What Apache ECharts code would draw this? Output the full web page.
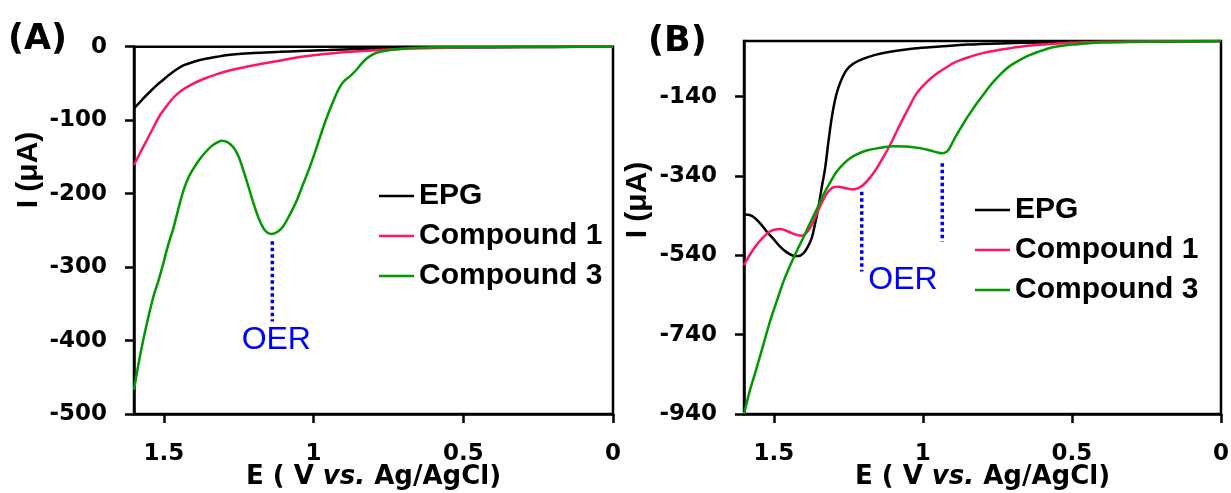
<!DOCTYPE html>
<html>
<head>
<meta charset="utf-8">
<script src="https://cdn.jsdelivr.net/npm/echarts@6/dist/echarts.min.js"></script>
<style>
  html, body { margin: 0; padding: 0; background: #fff; }
  #chart { width: 1231px; height: 493px; }
</style>
</head>
<body>
<div id="chart"></div>
<script>
// ---- Panel A: potential (V vs. Ag/AgCl) and current (µA) ----
const potA_EPG = [1.60, 1.575, 1.546, 1.52, 1.502, 1.485, 1.469, 1.45, 1.435, 1.40, 1.368, 1.32, 1.279, 1.20, 1.112, 1.045, 0.95, 0.85, 0.75, 0.6, 0.4, 0.2, 0];
const curA_EPG = [-84, -73, -61, -51, -45, -39, -34, -29, -25.5, -20.5, -17, -13.5, -11, -8.5, -7, -5.8, -4.5, -3, -2, -1.2, -0.6, -0.3, 0];

const potA_C1 = [1.60, 1.58, 1.557, 1.535, 1.513, 1.495, 1.48, 1.46, 1.435, 1.40, 1.368, 1.32, 1.279, 1.22, 1.168, 1.10, 1.045, 1.0, 0.9, 0.78, 0.7, 0.6, 0.4, 0.2, 0];
const curA_C1 = [-161, -145, -127, -110, -93, -83, -75, -66, -58, -50, -44, -37, -32, -27, -23, -18, -14, -11.5, -7.5, -4.5, -2.8, -1.6, -0.8, -0.4, 0];

const potA_C3 = [1.60, 1.585, 1.569, 1.552, 1.535, 1.518, 1.502, 1.49, 1.48, 1.469, 1.452, 1.435, 1.418, 1.40, 1.38, 1.36, 1.34, 1.32, 1.307, 1.288, 1.268, 1.25, 1.235, 1.218, 1.201, 1.185, 1.168, 1.155, 1.14, 1.12, 1.101, 1.08, 1.056, 1.035, 1.012, 0.99, 0.968, 0.95, 0.934, 0.918, 0.901, 0.878, 0.856, 0.84, 0.823, 0.8, 0.778, 0.745, 0.711, 0.65, 0.6, 0.4, 0];
const curA_C3 = [-467, -432, -399, -368, -340, -318, -295, -276, -262, -248, -221, -196, -178, -165, -153, -143, -135, -130, -128, -130, -137, -150, -168, -190, -213, -232, -247, -253, -255, -252, -244, -229, -209, -187, -163, -137, -110, -90, -74, -59, -48, -40, -31, -23, -16, -10, -7, -4.5, -3, -1.5, -0.8, -0.3, 0];

// OER marker in panel A (potential, current range)
const oerA_pot = [1.138, 1.138];
const oerA_cur = [-265, -374];

// ---- Panel B ----
const potB_EPG = [1.60, 1.585, 1.569, 1.545, 1.524, 1.50, 1.479, 1.457, 1.435, 1.418, 1.401, 1.387, 1.373, 1.362, 1.351, 1.34, 1.328, 1.317, 1.306, 1.295, 1.284, 1.27, 1.256, 1.235, 1.211, 1.16, 1.11, 1.03, 0.943, 0.85, 0.741, 0.6, 0.4, 0.2, 0];
const curB_EPG = [-437, -438, -443, -460, -480, -500, -518, -532, -541, -542, -535, -520, -497, -462, -422, -372, -321, -255, -195, -150, -119, -92, -73, -58, -48, -35, -27, -19, -14, -9, -6, -3.5, -2, -1, 0];

const potB_C1 = [1.60, 1.58, 1.558, 1.535, 1.513, 1.495, 1.479, 1.462, 1.446, 1.425, 1.407, 1.39, 1.373, 1.357, 1.34, 1.325, 1.312, 1.298, 1.284, 1.26, 1.233, 1.215, 1.20, 1.178, 1.155, 1.132, 1.11, 1.088, 1.066, 1.043, 1.021, 0.993, 0.965, 0.943, 0.92, 0.898, 0.87, 0.842, 0.8, 0.73, 0.68, 0.618, 0.507, 0.4, 0.2, 0];
const curB_C1 = [-565, -538, -514, -494, -480, -475, -474, -477, -482, -488, -491, -483, -464, -437, -409, -388, -375, -368, -367, -371, -374, -370, -363, -345, -321, -292, -262, -228, -195, -162, -132, -108, -89, -77, -66, -56, -47, -40, -30.5, -21, -15, -10, -4.5, -2, -0.7, 0];

const potB_C3 = [1.60, 1.58, 1.558, 1.535, 1.513, 1.49, 1.468, 1.446, 1.424, 1.40, 1.379, 1.356, 1.334, 1.31, 1.289, 1.267, 1.245, 1.22, 1.189, 1.15, 1.099, 1.055, 1.01, 0.975, 0.955, 0.937, 0.92, 0.909, 0.898, 0.88, 0.86, 0.84, 0.82, 0.80, 0.78, 0.76, 0.74, 0.72, 0.70, 0.68, 0.66, 0.64, 0.62, 0.60, 0.58, 0.55, 0.50, 0.45, 0.40, 0.30, 0.15, 0];
const curB_C3 = [-940, -880, -825, -765, -707, -655, -607, -567, -531, -494, -460, -424, -388, -355, -329, -310, -296, -285, -276, -270, -265, -266, -270, -276, -280, -283, -279, -268, -252, -228, -203, -180, -158, -138, -118, -100, -84, -70, -59, -50, -42, -35, -29, -24, -19, -14, -9, -6, -4, -2.5, -1, 0];

// OER markers in panel B
const oerB1_pot = [1.205, 1.205];
const oerB1_cur = [-380, -581];
const oerB2_pot = [0.935, 0.935];
const oerB2_cur = [-308, -506];

// Tick values
const xTicks = [0, 0.5, 1, 1.5];
const yTicksB = [-940, -740, -540, -340, -140];

const seriesNames = ['EPG', 'Compound 1', 'Compound 3'];
const colors = { 'EPG': '#000000', 'Compound 1': '#ff1466', 'Compound 3': '#009900' };

const TICK_FONT = 'DejaVu Sans';
const TEXT_FONT = 'Liberation Sans';

function pairs(xs, ys) { return xs.map((x, i) => [x, ys[i]]); }

function xAxisFor(gridIndex) {
  return {
    type: 'value', gridIndex, min: 0, max: 1.6, inverse: true,
    name: '{a|E ( V }{b|vs.}{a| Ag/AgCl)}',
    nameLocation: 'middle', nameGap: 50, nameMoveOverlap: false,
    nameTextStyle: {
      verticalAlign: 'top',
      rich: {
        a: { fontFamily: TICK_FONT, fontWeight: 'bold', fontSize: 26, color: '#000' },
        b: { fontFamily: TICK_FONT, fontWeight: 'bold', fontStyle: 'italic', fontSize: 26, color: '#000' }
      }
    },
    axisLine: { show: true, onZero: false, lineStyle: { color: '#000', width: 2.5 } },
    axisTick: { show: true, length: 9, customValues: xTicks, lineStyle: { color: '#000', width: 2.5 } },
    axisLabel: { customValues: xTicks, margin: 29, color: '#000', fontFamily: TICK_FONT, fontWeight: 'bold', fontSize: 23 },
    splitLine: { show: false }
  };
}

function yAxisFor(gridIndex, extra) {
  return Object.assign({
    type: 'value', gridIndex,
    axisLine: { show: true, onZero: false, lineStyle: { color: '#000', width: 2.5 } },
    axisTick: { show: true, length: 9, lineStyle: { color: '#000', width: 2.5 } },
    axisLabel: { margin: 27, color: '#000', fontFamily: TICK_FONT, fontWeight: 'bold', fontSize: 23 },
    splitLine: { show: false }
  }, extra);
}

function curve(name, idx, xs, ys) {
  return {
    type: 'line', name, xAxisIndex: idx, yAxisIndex: idx,
    data: pairs(xs, ys), smooth: 0.3, symbol: 'none',
    lineStyle: { color: colors[name], width: 2.5 },
    itemStyle: { color: colors[name] },
    emphasis: { disabled: true }
  };
}

function oerMarker(idx, xs, ys, labelOpt) {
  const pts = pairs(xs, ys);
  const data = [pts[0], labelOpt ? {
    value: pts[1],
    label: Object.assign({
      show: true, formatter: 'OER', color: '#0000ff',
      fontFamily: TEXT_FONT, fontSize: 32
    }, labelOpt)
  } : pts[1]];
  return {
    type: 'line', name: 'OER', xAxisIndex: idx, yAxisIndex: idx,
    data, symbol: 'circle', symbolSize: 1, showSymbol: true,
    itemStyle: { color: 'rgba(0,0,0,0)', borderWidth: 0 },
    lineStyle: { color: '#0000ee', width: 3.5, type: [3.5, 3] },
    emphasis: { disabled: true }, z: 5
  };
}

function legendAt(left, top) {
  return {
    data: seriesNames.map(n => ({ name: n, itemStyle: { color: colors[n] } })),
    left, top, orient: 'vertical', icon: 'rect',
    itemWidth: 35, itemHeight: 2.5, itemGap: 10, selectedMode: false,
    textStyle: { fontFamily: TEXT_FONT, fontWeight: 'bold', fontSize: 30, color: '#000', lineHeight: 30 }
  };
}

const chart = echarts.init(document.getElementById('chart'), null, { renderer: 'canvas' });

chart.setOption({
  animation: false,
  backgroundColor: '#fff',
  grid: [
    { left: 134, top: 46.7, width: 479, height: 367.3, show: true, borderColor: '#000', borderWidth: 2.5, backgroundColor: 'transparent', outerBoundsMode: 'none' },
    { left: 744, top: 41, width: 477, height: 373, show: true, borderColor: '#000', borderWidth: 2.5, backgroundColor: 'transparent', outerBoundsMode: 'none' }
  ],
  xAxis: [xAxisFor(0), xAxisFor(1)],
  yAxis: [
    yAxisFor(0, { min: -500, max: 0, interval: 100 }),
    yAxisFor(1, {
      min: -940, max: 0,
      axisTick: { show: true, length: 9, customValues: yTicksB, lineStyle: { color: '#000', width: 2.5 } },
      axisLabel: { customValues: yTicksB, margin: 27, color: '#000', fontFamily: TICK_FONT, fontWeight: 'bold', fontSize: 23 }
    })
  ],
  legend: [legendAt(374, 176), legendAt(970, 190)],
  series: [
    curve('EPG', 0, potA_EPG, curA_EPG),
    curve('Compound 1', 0, potA_C1, curA_C1),
    curve('Compound 3', 0, potA_C3, curA_C3),
    oerMarker(0, oerA_pot, oerA_cur, { position: 'bottom', distance: 2, offset: [4, 0] }),
    curve('EPG', 1, potB_EPG, curB_EPG),
    curve('Compound 1', 1, potB_C1, curB_C1),
    curve('Compound 3', 1, potB_C3, curB_C3),
    oerMarker(1, oerB1_pot, oerB1_cur, { position: 'right', distance: 6, offset: [0, 9] }),
    oerMarker(1, oerB2_pot, oerB2_cur, null)
  ],
  graphic: [
    { type: 'text', x: 8, y: 40, style: { text: '(A)', fontFamily: TICK_FONT, fontWeight: 'bold', fontSize: 35, fill: '#000', align: 'left', verticalAlign: 'middle' } },
    { type: 'text', x: 648, y: 42, style: { text: '(B)', fontFamily: TICK_FONT, fontWeight: 'bold', fontSize: 35, fill: '#000', align: 'left', verticalAlign: 'middle' } },
    { type: 'text', x: 29, y: 170, rotation: Math.PI / 2, style: { text: 'I (μA)', fontFamily: TEXT_FONT, fontWeight: 'bold', fontSize: 30, fill: '#000', align: 'center', verticalAlign: 'middle' } },
    { type: 'text', x: 638, y: 200, rotation: Math.PI / 2, style: { text: 'I (μA)', fontFamily: TEXT_FONT, fontWeight: 'bold', fontSize: 30, fill: '#000', align: 'center', verticalAlign: 'middle' } }
  ]
});
</script>
</body>
</html>
